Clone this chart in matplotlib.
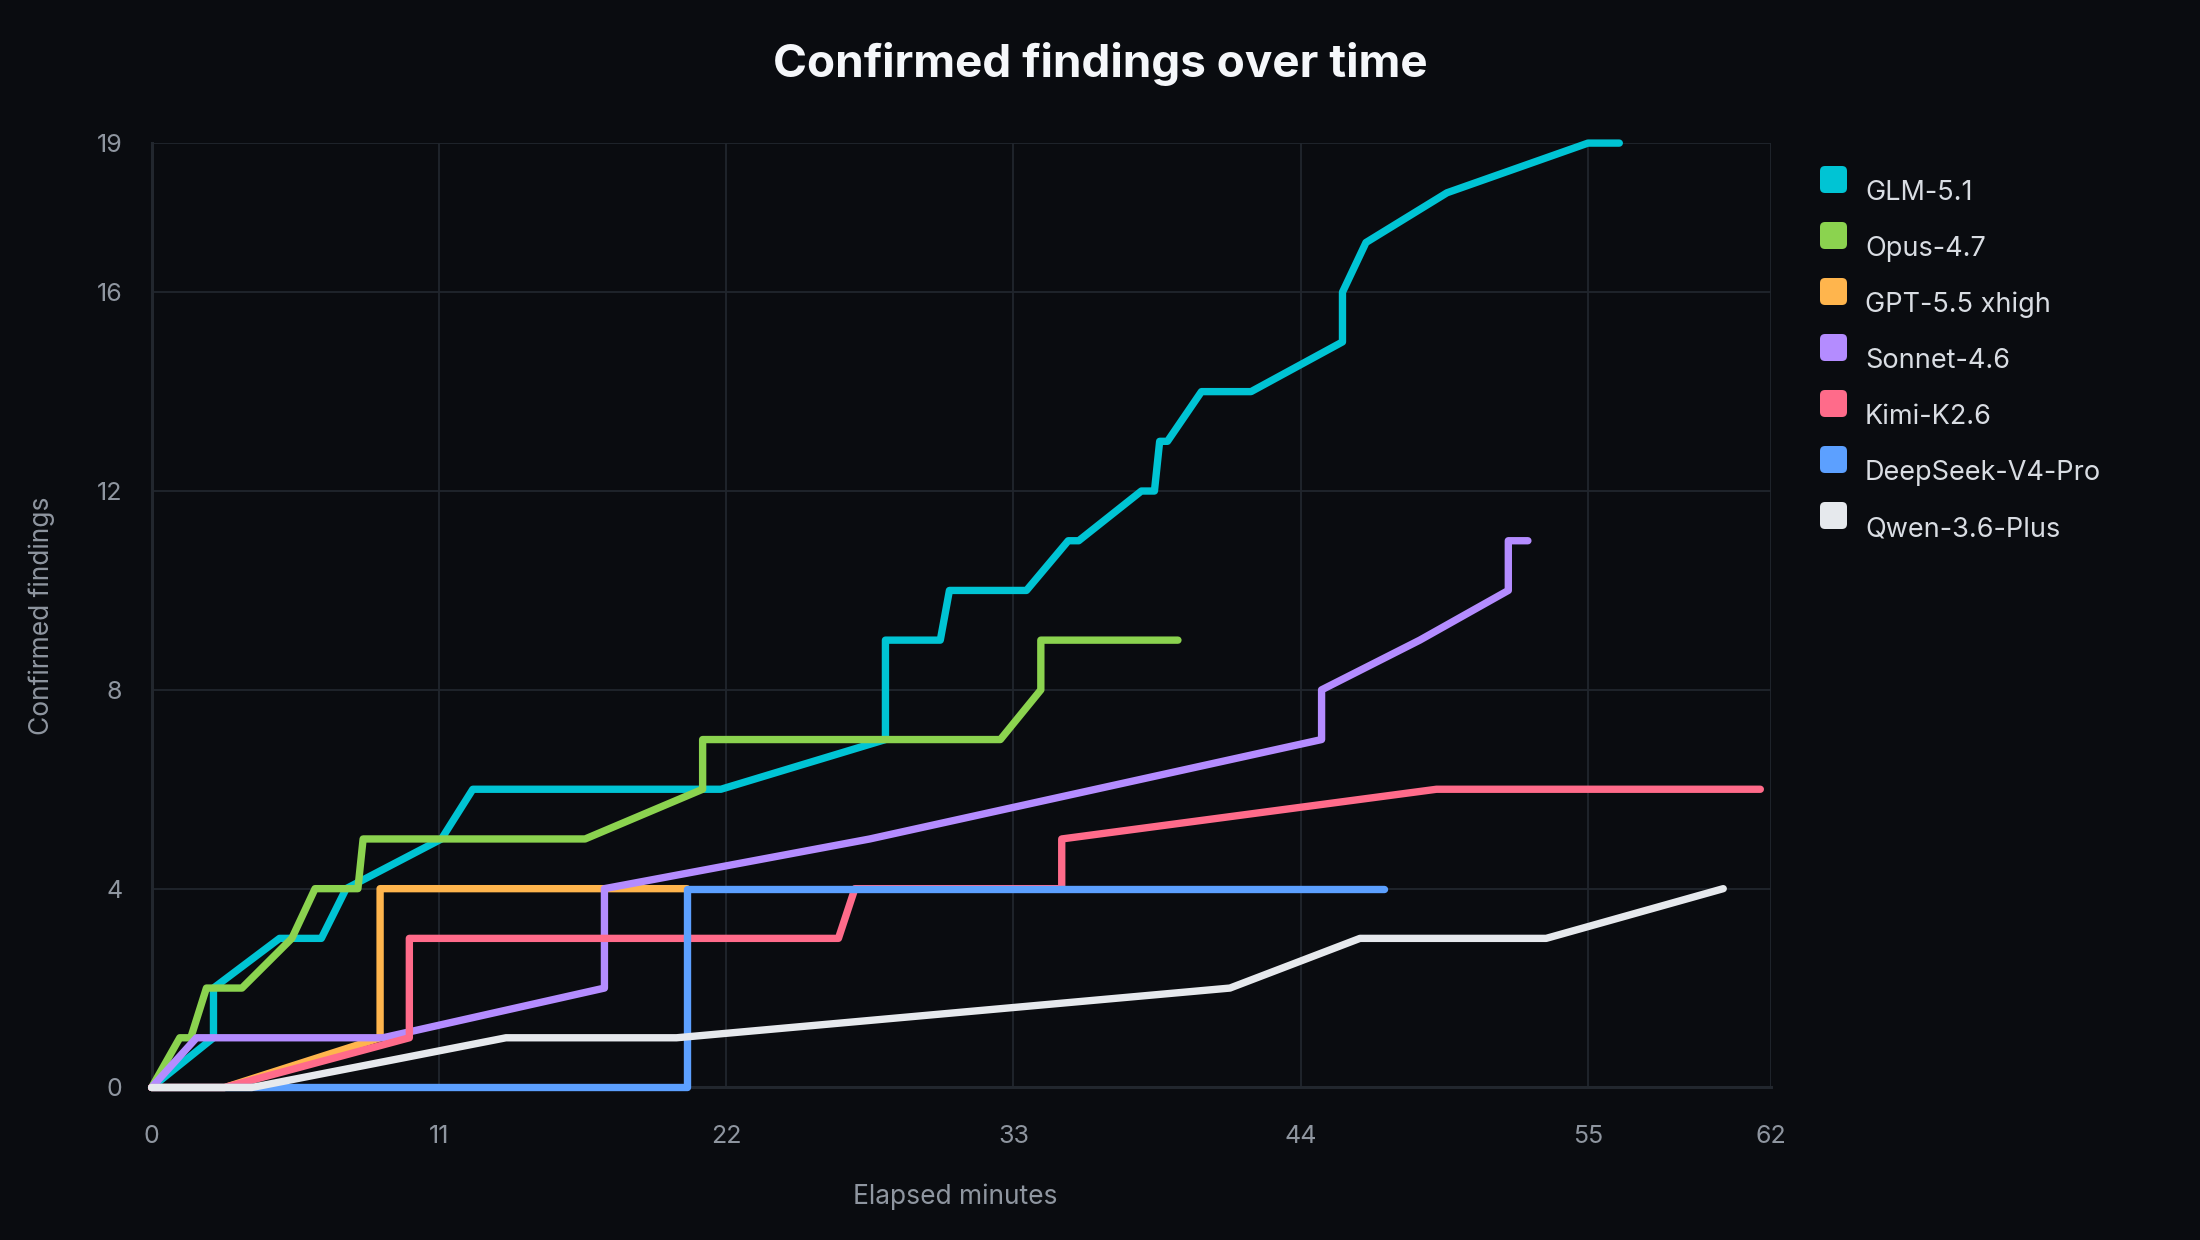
"""
Confirmed findings over time - cumulative step lines per model, dark theme.
Saves out.png (2200x1240).
"""

import matplotlib
matplotlib.use('Agg')
import matplotlib.pyplot as plt
from matplotlib.patches import FancyBboxPatch

plt.rcParams['font.family'] = ['Inter', 'DejaVu Sans']

# --- data (elapsed minutes vs. cumulative confirmed findings) ---
models = ['GLM-5.1', 'Opus-4.7', 'GPT-5.5 xhigh', 'Sonnet-4.6',
          'Kimi-K2.6', 'DeepSeek-V4-Pro', 'Qwen-3.6-Plus']

glm_x = [0, 2.37, 2.37, 4.9, 6.5, 7.45, 11.1, 12.3, 21.8, 28.1, 28.1, 30.2, 30.55,
         33.5, 35.1, 35.5, 37.9, 38.4, 38.6, 38.9, 40.2, 42.1, 45.6, 45.6, 46.5,
         49.6, 55.0, 56.2]
glm_y = [0, 1, 2, 3, 3, 4, 5, 6, 6, 7, 9, 9, 10,
         10, 11, 11, 12, 12, 13, 13, 14, 14, 15, 16, 17,
         18, 19, 19]

opus_x = [0, 1.08, 1.5, 2.1, 3.46, 5.37, 6.26, 7.9, 8.1, 16.6, 21.1, 21.1,
          32.5, 34.05, 34.05, 39.3]
opus_y = [0, 1, 1, 2, 2, 3, 4, 4, 5, 5, 6, 7, 7, 8, 9, 9]

gpt_x = [0, 2.8, 8.75, 8.75, 20.5]
gpt_y = [0, 0, 1, 4, 4]

sonnet_x = [0, 1.72, 8.86, 17.34, 17.34, 27.5, 44.8, 44.8, 48.56, 51.95, 51.95, 52.7]
sonnet_y = [0, 1, 1, 2, 4, 5, 7, 8, 9, 10, 11, 11]

kimi_x = [0, 2.8, 9.87, 9.87, 26.3, 26.93, 34.85, 34.85, 49.2, 61.6]
kimi_y = [0, 0, 1, 3, 3, 4, 4, 5, 6, 6]

deepseek_x = [0, 20.5, 20.5, 47.2]
deepseek_y = [0, 0, 4, 4]

qwen_x = [0, 3.84, 13.57, 20.1, 41.29, 46.27, 53.4, 60.18]
qwen_y = [0, 0, 1, 1, 2, 3, 3, 4]

x_ticks = [0, 11, 22, 33, 44, 55, 62]
y_ticks = [0, 4, 8, 12, 16, 19]

# --- style ---
BG = '#0a0c10'
GRID = '#21262d'
TICK = '#8f96a0'
colors = ['#00c4d4', '#8bd34f', '#ffb54d', '#b48cff', '#ff6b8a', '#5ca0ff', '#e6e9ed']

series = [
    (glm_x, glm_y), (opus_x, opus_y), (gpt_x, gpt_y), (sonnet_x, sonnet_y),
    (kimi_x, kimi_y), (deepseek_x, deepseek_y), (qwen_x, qwen_y),
]

fig = plt.figure(figsize=(22, 12.4), dpi=100, facecolor=BG)
ax = fig.add_axes([0.0689, 0.1230, 0.7360, 0.7616])
ax.set_facecolor(BG)

for i, (xs, ys) in enumerate(series):
    ax.plot(xs, ys, color=colors[i], linewidth=5.3, solid_capstyle='round',
            solid_joinstyle='round', clip_on=False, zorder=3 + i)

ax.set_xlim(0, 62)
ax.set_ylim(0, 19)
ax.set_xticks(x_ticks)
ax.set_yticks(y_ticks)
ax.grid(True, color=GRID, linewidth=1.3, zorder=0)
ax.set_axisbelow(True)
for side in ['top', 'right']:
    ax.spines[side].set_visible(False)
for side in ['left', 'bottom']:
    ax.spines[side].set_color('#22272e')
    ax.spines[side].set_linewidth(2.2)

ax.tick_params(axis='both', length=0, labelsize=18, labelcolor=TICK)
ax.tick_params(axis='x', pad=27)
ax.tick_params(axis='y', pad=21)

ax.set_xlabel('Elapsed minutes', fontsize=19, color=TICK)
ax.xaxis.set_label_coords(0.4965, -0.1013)
ax.set_ylabel('Confirmed findings', fontsize=19, color=TICK, labelpad=30)

fig.text(0.5, 1 - 76.7 / 1240, 'Confirmed findings over time', ha='center',
         va='baseline', fontsize=33, fontweight='bold', color='#f5f7fa')

# --- legend (rounded colour squares + labels) ---
for i, name in enumerate(models):
    top_px = 166 + 56 * i
    box = FancyBboxPatch((18.2, (1240 - top_px - 27) / 100), 0.27, 0.27,
                         boxstyle='round,pad=0,rounding_size=0.05',
                         facecolor=colors[i], edgecolor='none',
                         transform=fig.dpi_scale_trans)
    fig.patches.append(box)
    fig.text(1865 / 2200, 1 - (200 + 56 * i) / 1240, name, ha='left',
             va='baseline', fontsize=19.5, color='#d9dde3')

fig.savefig('out.png', dpi=100, facecolor=BG)
plt.close(fig)
